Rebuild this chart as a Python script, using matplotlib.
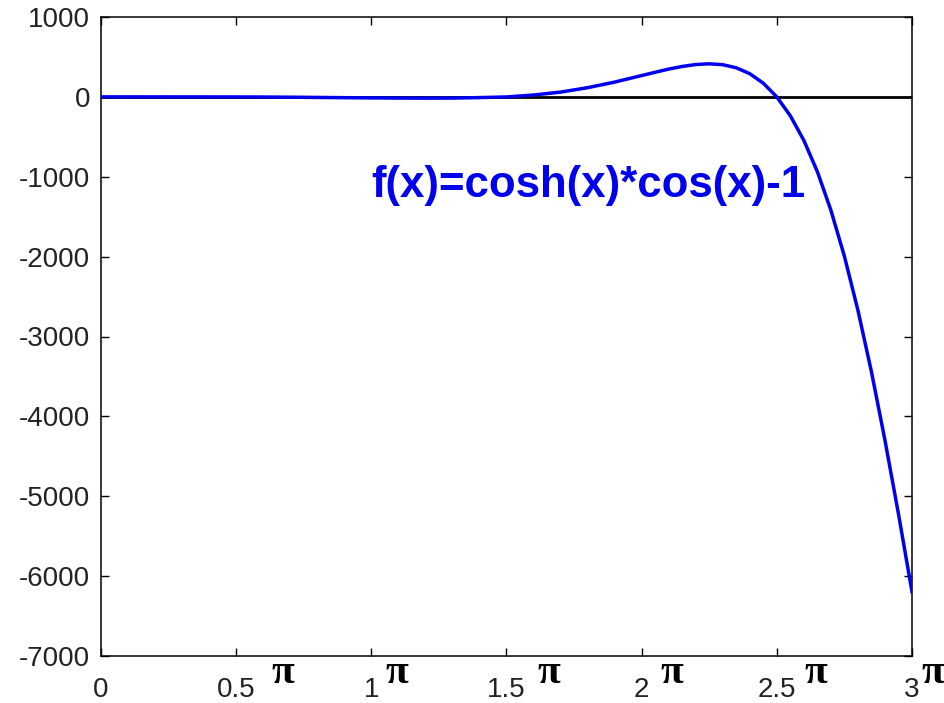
import matplotlib
matplotlib.use("Agg")
import matplotlib.pyplot as plt
from matplotlib.transforms import offset_copy

# x in multiples of pi, y = f(x)
x_pi = [0.0, 0.1, 0.2, 0.3, 0.4, 0.5, 0.6, 0.7, 0.8, 0.9, 1.0,
        1.1, 1.2, 1.3, 1.4, 1.5, 1.6, 1.7, 1.8, 1.9, 2.0,
        2.05, 2.1, 2.15, 2.2, 2.25, 2.3, 2.35, 2.4, 2.45, 2.5,
        2.55, 2.6, 2.65, 2.7, 2.75, 2.8, 2.85, 2.9, 2.95, 3.0]
f_vals = [0, 0, -0.1, -0.3, -0.6, -1, -2, -4, -7, -10, -13,
          -15, -16, -15, -9, -1, 23, 60, 115, 185, 267,
          308, 348, 381, 405, 414, 403, 364, 290, 171, -1,
          -237, -545, -937, -1419, -1996, -2672, -3442, -4299, -5222, -6195]

x_ticks = [0, 0.5, 1, 1.5, 2, 2.5, 3]
x_tick_labels = ["0", "0.5", "1", "1.5", "2", "2.5", "3"]
# pixel offset of the pi glyph from each tick (none after 0)
pi_offsets = [None, 47, 25, 42, 30, 39, 21]
y_ticks = list(range(-7000, 1001, 1000))
label = "f(x)=cosh(x)*cos(x)-1"

plt.rcParams["font.family"] = ["Liberation Sans", "DejaVu Sans"]
plt.rcParams["axes.unicode_minus"] = False

fig = plt.figure(figsize=(9.45, 7.03), dpi=100)
ax = fig.add_axes([101 / 945, 47 / 703, 811 / 945, 639 / 703])

ax.axhline(0, color="black", linewidth=2.0, zorder=2)
ax.plot(x_pi, f_vals, color="#0000ee", linewidth=2.5, zorder=3)

ax.set_xlim(0, 3)
ax.set_ylim(-7000, 1000)
ax.set_xticks(x_ticks)
ax.set_xticklabels(x_tick_labels)
ax.set_yticks(y_ticks)
ax.tick_params(direction="in", length=6, width=1, top=True, right=True,
               labelsize=20, colors="black", labelcolor="#222222")
ax.tick_params(axis="x", pad=15)
ax.tick_params(axis="y", pad=8)
for sp in ax.spines.values():
    sp.set_linewidth(1.1)

for xt, off in zip(x_ticks, pi_offsets):
    if off is None:
        continue
    tr = offset_copy(ax.get_xaxis_transform(), fig=fig, x=off, y=-17, units="dots")
    ax.text(xt, 0, "π", transform=tr, ha="center", va="center",
            fontsize=30, fontweight="bold", family="Liberation Serif",
            clip_on=False)

ax.text(1.0, -1250, label, color="#0000ee", fontsize=31.5, fontweight="bold",
        ha="left", va="baseline")

fig.savefig("out.png", dpi=100)
